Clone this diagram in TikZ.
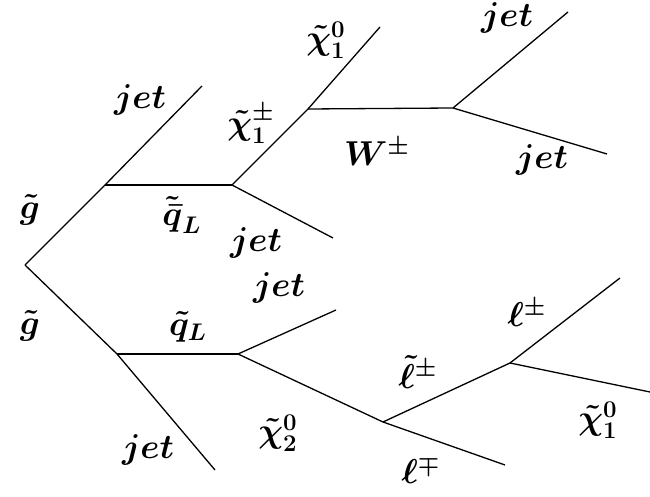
\documentclass[tikz,border=0pt]{standalone}
\usepackage{amsmath, amssymb}
\usepackage{bm}
\usepackage{tikz}
\usetikzlibrary{positioning,calc}

\begin{document}
\begin{tikzpicture}[x=0.5pt, y=-0.5pt,
        prop/.style={line width=0.65pt, black},
        lbl/.style={inner sep=1pt, font=\fontsize{18}{20}\selectfont}
    ]
    \useasboundingbox (0,0) rectangle (650,497);
    % vertices
    \coordinate (v0) at (25,265);
    \coordinate (vga) at (105,185);
    \coordinate (vgb) at (117,354);
    \coordinate (vqa) at (232,185);
    \coordinate (vqb) at (238,354);
    \coordinate (vch) at (308,109);
    \coordinate (vw) at (453,108);
    \coordinate (vn2) at (383,422);
    \coordinate (vsl) at (510,363);
    % outgoing ends
    \coordinate (ja) at (202,86);
    \coordinate (jb) at (215,470);
    \coordinate (jc) at (333,238);
    \coordinate (jd) at (336,310);
    \coordinate (n1a) at (380,27);
    \coordinate (je) at (568,12);
    \coordinate (jf) at (607,154);
    \coordinate (lm) at (505,465);
    \coordinate (lp) at (620,278);
    \coordinate (n1b) at (650,392);
    % lines
    \draw[prop] (v0) -- (vga) -- (ja);
    \draw[prop] (v0) -- (vgb) -- (jb);
    \draw[prop] (vga) -- (vqa);
    \draw[prop] (vgb) -- (vqb);
    \draw[prop] (vqa) -- (vch) -- (n1a);
    \draw[prop] (vqa) -- (jc);
    \draw[prop] (vch) -- (vw);
    \draw[prop] (vw) -- (je);
    \draw[prop] (vw) -- (jf);
    \draw[prop] (vqb) -- (jd);
    \draw[prop] (vqb) -- (vn2);
    \draw[prop] (vn2) -- (vsl);
    \draw[prop] (vn2) -- (lm);
    \draw[prop] (vsl) -- (lp);
    \draw[prop] (vsl) -- (n1b);
    % labels
    \node[lbl] (gla) at (30,210) {$\bm{\tilde{g}}$};
    \node[lbl] (glb) at (30,326) {$\bm{\tilde{g}}$};
    \node[lbl] (jeta) at (140,100) {$\bm{jet}$};
    \node[lbl] (sqa) at (182,215) {$\bm{\tilde{\bar{q}}_L}$};
    \node[lbl] (cha) at (251,124) {$\bm{\tilde{\chi}^{\pm}_1}$};
    \node[lbl] (nea) at (326,40) {$\bm{\tilde{\chi}^{0}_1}$};
    \node[lbl] (wbos) at (377,152) {$\bm{W^{\pm}}$};
    \node[lbl] (jetb) at (507,18) {$\bm{jet}$};
    \node[lbl] (jetc) at (542,160) {$\bm{jet}$};
    \node[lbl] (jetd) at (256,243) {$\bm{jet}$};
    \node[lbl] (jete) at (279,288) {$\bm{jet}$};
    \node[lbl] (sqb) at (188,327) {$\bm{\tilde{q}_L}$};
    \node[lbl] (neb) at (278,433) {$\bm{\tilde{\chi}^{0}_2}$};
    \node[lbl] (jetf) at (148,450) {$\bm{jet}$};
    \node[lbl] (sle) at (418,372) {$\bm{\tilde{\ell}^{\pm}}$};
    \node[lbl] (lepa) at (527,313) {$\bm{\ell^{\pm}}$};
    \node[lbl] (lepb) at (421,470) {$\bm{\ell^{\mp}}$};
    \node[lbl] (nec) at (598,420) {$\bm{\tilde{\chi}^{0}_1}$};
\end{tikzpicture}
\end{document}
